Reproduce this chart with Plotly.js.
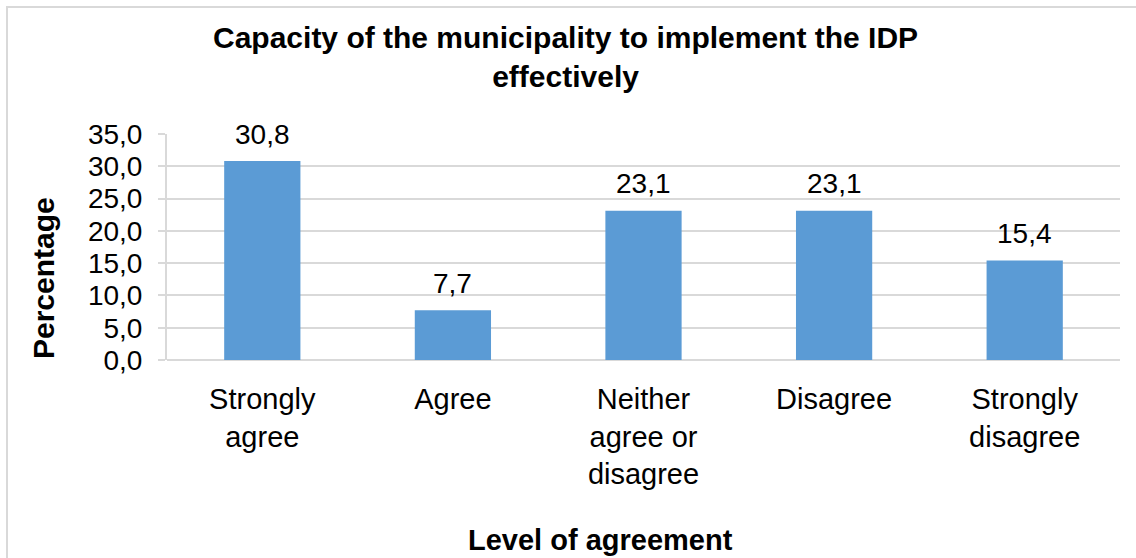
<!DOCTYPE html>
<html>
<head>
<meta charset="utf-8">
<script src="https://cdn.plot.ly/plotly-3.0.1.min.js"></script>
<style>
html,body{margin:0;padding:0;background:#fff;}
#wrap{position:relative;width:1136px;height:558px;overflow:hidden;}
#chart{width:1136px;height:558px;}
#frame{position:absolute;left:6px;top:6px;width:1140px;height:560px;border:2px solid #D9D9D9;box-sizing:border-box;pointer-events:none;}
</style>
</head>
<body>
<div id="wrap">
<div id="chart"></div>
<div id="frame"></div>
</div>
<script>
const categories = ["Strongly<br>agree", "Agree", "Neither<br>agree or<br>disagree", "Disagree", "Strongly<br>disagree"];
const percentages = [30.8, 7.7, 23.1, 23.1, 15.4];
const yTicks = [0, 5, 10, 15, 20, 25, 30, 35];
const chartTitle = "Capacity of the municipality to implement the IDP<br>effectively";
const yTitle = "Percentage";
const xTitle = "Level of agreement";

const font = "Liberation Sans, Arial, sans-serif";
const plotTop = 134, plotBottom = 360, plotLeft = 167, plotRight = 1120;
const pw = plotRight - plotLeft, ph = plotBottom - plotTop;

const trace = {
  type: "bar",
  x: categories,
  y: percentages,
  marker: {color: "#5B9BD5"},
  cliponaxis: false,
  hoverinfo: "none"
};

const valueLabels = categories.map((c, i) => ({
  x: c, y: percentages[i],
  xref: "x", yref: "y",
  text: percentages[i].toFixed(1).replace(".", ","),
  showarrow: false,
  xanchor: "center", yanchor: "middle",
  yshift: 27,
  font: {family: font, size: 28, color: "#000"}
}));

const layout = {
  width: 1136,
  height: 558,
  margin: {l: plotLeft, r: 1136 - plotRight, t: plotTop, b: 558 - plotBottom},
  paper_bgcolor: "#fff",
  plot_bgcolor: "#fff",
  separators: ",.",
  bargap: 0.6,
  showlegend: false,
  font: {family: font, color: "#000"},
  xaxis: {
    type: "category",
    showgrid: false,
    showline: false,
    zeroline: false,
    ticks: "",
    tickfont: {family: font, size: 29, color: "#000"},
    ticklabelstandoff: 19
  },
  yaxis: {
    range: [0, 35],
    tickvals: yTicks,
    tickformat: ".1f",
    showgrid: true,
    gridcolor: "#D9D9D9",
    gridwidth: 2,
    zeroline: true,
    zerolinecolor: "#D9D9D9",
    zerolinewidth: 2,
    showline: true,
    linecolor: "#D9D9D9",
    linewidth: 2,
    ticks: "outside",
    ticklen: 7,
    tickcolor: "#D9D9D9",
    tickwidth: 2,
    tickfont: {family: font, size: 28, color: "#000"},
    ticklabelstandoff: 10
  },
  annotations: valueLabels.concat([
    {
      text: "<b>" + chartTitle + "</b>",
      xref: "paper", yref: "paper",
      x: (565 - plotLeft)/pw, y: (plotBottom - 57)/ph,
      xanchor: "center", yanchor: "middle",
      showarrow: false,
      font: {family: font, size: 30, color: "#000"}
    },
    {
      text: "<b>" + yTitle + "</b>", textangle: -90,
      xref: "paper", yref: "paper",
      x: (43 - plotLeft)/pw, y: (plotBottom - 278)/ph,
      xanchor: "center", yanchor: "middle",
      showarrow: false,
      font: {family: font, size: 30, color: "#000"}
    },
    {
      text: "<b>" + xTitle + "</b>",
      xref: "paper", yref: "paper",
      x: (600 - plotLeft)/pw, y: (plotBottom - 540)/ph,
      xanchor: "center", yanchor: "middle",
      showarrow: false,
      font: {family: font, size: 29, color: "#000"}
    }
  ])
};

Plotly.newPlot("chart", [trace], layout, {displayModeBar: false, staticPlot: true});
</script>
</body>
</html>
